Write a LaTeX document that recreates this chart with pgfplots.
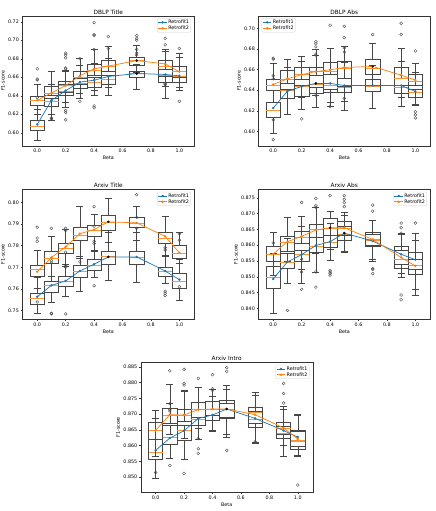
\documentclass[border=0pt]{standalone}
\usepackage{fontspec}
\setmainfont{DejaVu Sans}
\usepackage{pgfplots}
\pgfplotsset{compat=1.18}
\usepgfplotslibrary{statistics}
\definecolor{c0}{HTML}{1F77B4}
\definecolor{c1}{HTML}{FF7F0E}
\pgfplotsset{
  panel/.style={
    scale only axis, width=344pt, height=260pt,
    xmin=-0.105, xmax=1.105,
    xtick={0,0.2,0.4,0.6,0.8,1.0},
    xticklabel style={/pgf/number format/.cd,fixed,fixed zerofill,precision=1},
    scaled y ticks=false,
    /pgf/number format/assume math mode=true,
    tick align=outside, tick pos=left, major tick length=3.4pt,
    every tick/.style={black!80, line width=0.77pt},
    axis line style={black!80, line width=0.77pt},
    tick label style={font=\fontsize{9.6}{11}\selectfont},
    label style={font=\fontsize{9.6}{11}\selectfont},
    every axis title shift=0pt,
    title style={font=\fontsize{11.6}{13}\selectfont, yshift=-1pt},
    xlabel={Beta}, ylabel={F1-score},
    legend cell align=left,
    legend style={font=\fontsize{9.6}{11}\selectfont, draw=black!20, rounded corners=2pt, inner sep=1.5pt, row sep=-1pt, fill=white, fill opacity=0.8, text opacity=1},
  },
  bst/.style={black!72, line width=0.96pt, solid, forget plot, mark=none,
    boxplot/draw direction=y,
    boxplot/box extend=0.1, boxplot/whisker extend=0.05,
    boxplot/every median/.style={draw=c1!85, line width=0.96pt}},
  outl/.style={only marks, mark=o, mark size=2.9pt, black!72, mark options={line width=0.75pt}, forget plot},
  bestpt/.style={only marks, mark=*, mark size=2.2pt, black, forget plot},
  l1/.style={c0, line width=1.45pt, mark=*, mark size=1.7pt},
  l2/.style={c1, line width=1.45pt, mark=*, mark size=1.7pt},
}
\newcommand\bx[6]{\addplot[bst, boxplot prepared={draw direction=y,draw position=#1,lower whisker=#2,lower quartile=#3,median=#4,upper quartile=#5,upper whisker=#6}] coordinates {};}
\begin{document}
\begin{tikzpicture}
\useasboundingbox (0,0) rectangle (870pt,-1022pt);
% ---------------- DBLP Title
\begin{axis}[panel, at={(44.6pt,-31.4pt)}, anchor=north west, title={DBLP Title},
  ymin=0.586, ymax=0.7265, ytick={0.60,0.62,0.64,0.66,0.68,0.70,0.72},
  yticklabel style={/pgf/number format/.cd,fixed,fixed zerofill,precision=2},
  legend style={at={(0.98,0.98)}, anchor=north east}]
\bx{0}{0.592}{0.603}{0.6075}{0.613}{0.625}
\bx{0}{0.620}{0.630}{0.635}{0.639}{0.652}
\bx{0.1}{0.613}{0.629}{0.634}{0.641}{0.652}
\bx{0.1}{0.620}{0.637}{0.643}{0.650}{0.666}
\bx{0.2}{0.628}{0.640}{0.645}{0.652}{0.667}
\bx{0.2}{0.633}{0.644}{0.651}{0.6555}{0.668}
\bx{0.3}{0.637}{0.648}{0.654}{0.659}{0.673}
\bx{0.3}{0.643}{0.652}{0.660}{0.667}{0.680}
\bx{0.4}{0.641}{0.649}{0.655}{0.662}{0.675}
\bx{0.4}{0.646}{0.660}{0.668}{0.674}{0.690}
\bx{0.5}{0.641}{0.652}{0.658}{0.666}{0.680}
\bx{0.5}{0.649}{0.662}{0.672}{0.678}{0.693}
\bx{0.7}{0.647}{0.660}{0.664}{0.667}{0.674}
\bx{0.7}{0.665}{0.673}{0.678}{0.682}{0.695}
\bx{0.9}{0.637}{0.655}{0.662}{0.669}{0.688}
\bx{0.9}{0.650}{0.661}{0.672}{0.678}{0.690}
\bx{1.0}{0.646}{0.655}{0.661}{0.667}{0.682}
\bx{1.0}{0.649}{0.660}{0.666}{0.672}{0.686}
\addplot[outl] coordinates {(0,0.669)(0,0.658)(0,0.657)(0,0.638)(0.1,0.616)(0.1,0.615)(0.2,0.686)(0.2,0.684)(0.2,0.681)(0.2,0.670)(0.2,0.669)(0.2,0.624)(0.2,0.622)(0.2,0.614)(0.3,0.680)(0.3,0.634)(0.4,0.719)(0.4,0.706)(0.4,0.705)(0.4,0.690)(0.4,0.629)(0.4,0.627)(0.5,0.704)(0.5,0.691)(0.7,0.705)(0.7,0.702)(0.7,0.700)(0.7,0.690)(0.7,0.686)(0.7,0.684)(0.9,0.702)(0.9,0.695)(0.9,0.653)(0.9,0.652)(1.0,0.691)(1.0,0.634)};
\addplot[l1] coordinates {(0,0.609)(0.1,0.635)(0.2,0.6455)(0.3,0.6547)(0.4,0.6568)(0.5,0.6608)(0.7,0.664)(0.9,0.663)(1.0,0.6615)};
\addlegendentry{Retrofit1}
\addplot[l2] coordinates {(0,0.635)(0.1,0.643)(0.2,0.651)(0.3,0.6615)(0.4,0.669)(0.5,0.672)(0.7,0.678)(0.9,0.6744)(1.0,0.666)};
\addlegendentry{Retrofit2}
\addplot[bestpt] coordinates {(0.7,0.664)(0.7,0.678)};
\end{axis}
% ---------------- DBLP Abs
\begin{axis}[panel, at={(516.6pt,-31.4pt)}, anchor=north west, title={DBLP Abs},
  ymin=0.586, ymax=0.7123, ytick={0.60,0.62,0.64,0.66,0.68,0.70},
  yticklabel style={/pgf/number format/.cd,fixed,fixed zerofill,precision=2},
  legend style={at={(0.02,0.98)}, anchor=north west}]
\bx{0}{0.598}{0.614}{0.620}{0.628}{0.640}
\bx{0}{0.628}{0.640}{0.645}{0.651}{0.666}
\bx{0.1}{0.617}{0.632}{0.640}{0.647}{0.662}
\bx{0.1}{0.632}{0.641}{0.651}{0.659}{0.670}
\bx{0.2}{0.621}{0.634}{0.644}{0.651}{0.668}
\bx{0.2}{0.633}{0.645}{0.655}{0.662}{0.673}
\bx{0.3}{0.623}{0.637}{0.646}{0.654}{0.674}
\bx{0.3}{0.635}{0.643}{0.658}{0.662}{0.680}
\bx{0.4}{0.624}{0.638}{0.645}{0.655}{0.667}
\bx{0.4}{0.628}{0.641}{0.658}{0.667}{0.681}
\bx{0.5}{0.620}{0.638}{0.643}{0.652}{0.667}
\bx{0.5}{0.629}{0.644}{0.661}{0.668}{0.683}
\bx{0.7}{0.622}{0.639}{0.644}{0.651}{0.664}
\bx{0.7}{0.645}{0.655}{0.661}{0.670}{0.686}
\bx{0.9}{0.624}{0.637}{0.643}{0.652}{0.668}
\bx{0.9}{0.633}{0.645}{0.652}{0.662}{0.681}
\bx{1.0}{0.625}{0.633}{0.638}{0.645}{0.657}
\bx{1.0}{0.626}{0.641}{0.649}{0.655}{0.666}
\addplot[outl] coordinates {(0,0.671)(0,0.670)(0,0.654)(0,0.651)(0,0.611)(0,0.592)(0.2,0.612)(0.3,0.687)(0.3,0.685)(0.3,0.682)(0.3,0.675)(0.3,0.674)(0.3,0.635)(0.4,0.703)(0.4,0.624)(0.5,0.702)(0.5,0.691)(0.5,0.681)(0.5,0.677)(0.5,0.632)(0.7,0.694)(0.9,0.705)(0.9,0.694)(1.0,0.678)(1.0,0.619)(1.0,0.616)(1.0,0.613)};
\addplot[l1] coordinates {(0,0.6226)(0.1,0.639)(0.2,0.6435)(0.3,0.6465)(0.4,0.6465)(0.5,0.6445)(0.7,0.6445)(0.9,0.6445)(1.0,0.6387)};
\addlegendentry{Retrofit1}
\addplot[l2] coordinates {(0,0.6455)(0.1,0.651)(0.2,0.655)(0.3,0.658)(0.4,0.6597)(0.5,0.662)(0.7,0.663)(0.9,0.6545)(1.0,0.6497)};
\addlegendentry{Retrofit2}
\addplot[bestpt] coordinates {(0.3,0.6465)(0.7,0.663)};
\end{axis}
% ---------------- Arxiv Title
\begin{axis}[panel, at={(44.6pt,-378.6pt)}, anchor=north west, title={Arxiv Title},
  ymin=0.746, ymax=0.806, ytick={0.75,0.76,0.77,0.78,0.79,0.80},
  yticklabel style={/pgf/number format/.cd,fixed,fixed zerofill,precision=2},
  legend style={at={(0.98,0.98)}, anchor=north east}]
\bx{0}{0.7487}{0.7531}{0.7555}{0.7582}{0.7655}
\bx{0}{0.7605}{0.7657}{0.769}{0.7709}{0.778}
\bx{0.1}{0.754}{0.7584}{0.7615}{0.7634}{0.772}
\bx{0.1}{0.766}{0.7719}{0.774}{0.7775}{0.7845}
\bx{0.2}{0.7565}{0.7611}{0.7635}{0.7657}{0.7715}
\bx{0.2}{0.7705}{0.7763}{0.779}{0.781}{0.7875}
\bx{0.3}{0.759}{0.7654}{0.768}{0.7708}{0.775}
\bx{0.3}{0.774}{0.7824}{0.785}{0.7886}{0.798}
\bx{0.4}{0.7655}{0.7688}{0.771}{0.7736}{0.7775}
\bx{0.4}{0.778}{0.7844}{0.787}{0.7894}{0.7945}
\bx{0.5}{0.764}{0.7714}{0.775}{0.7776}{0.786}
\bx{0.5}{0.7815}{0.7869}{0.791}{0.7942}{0.802}
\bx{0.7}{0.763}{0.7716}{0.7745}{0.7775}{0.786}
\bx{0.7}{0.7825}{0.7885}{0.7905}{0.793}{0.798}
\bx{0.9}{0.7625}{0.766}{0.768}{0.770}{0.775}
\bx{0.9}{0.7755}{0.781}{0.7835}{0.7863}{0.7935}
\bx{1.0}{0.7548}{0.7603}{0.7635}{0.7672}{0.7735}
\bx{1.0}{0.772}{0.7744}{0.7765}{0.780}{0.786}
\addplot[outl] coordinates {(0,0.7885)(0,0.7835)(0,0.782)(0,0.754)(0.1,0.788)(0.1,0.773)(0.1,0.772)(0.1,0.7488)(0.1,0.7485)(0.2,0.788)(0.2,0.787)(0.2,0.777)(0.2,0.771)(0.2,0.770)(0.2,0.7485)(0.3,0.7725)(0.4,0.798)(0.4,0.789)(0.4,0.782)(0.4,0.781)(0.4,0.7615)(0.7,0.8035)(0.7,0.793)(0.7,0.788)(0.9,0.779)(0.9,0.778)(0.9,0.759)(0.9,0.758)(0.9,0.757)(1.0,0.7855)(1.0,0.7825)(1.0,0.761)};
\addplot[l1] coordinates {(0,0.7564)(0.1,0.7617)(0.2,0.7637)(0.3,0.7683)(0.4,0.7714)(0.5,0.7748)(0.7,0.7748)(0.9,0.7683)(1.0,0.7643)};
\addlegendentry{Retrofit1}
\addplot[l2] coordinates {(0,0.768)(0.1,0.7745)(0.2,0.7795)(0.3,0.7855)(0.4,0.7874)(0.5,0.791)(0.7,0.7905)(0.9,0.7843)(1.0,0.7767)};
\addlegendentry{Retrofit2}
\addplot[bestpt] coordinates {(0.5,0.7748)(0.5,0.791)};
\end{axis}
% ---------------- Arxiv Abs
\begin{axis}[panel, at={(516.6pt,-378.6pt)}, anchor=north west, title={Arxiv Abs},
  ymin=0.8365, ymax=0.8777, ytick={0.840,0.845,0.850,0.855,0.860,0.865,0.870,0.875},
  yticklabel style={/pgf/number format/.cd,fixed,fixed zerofill,precision=3},
  legend style={at={(0.98,0.98)}, anchor=north east}]
\bx{0}{0.8384}{0.8463}{0.8497}{0.8532}{0.8575}
\bx{0}{0.8505}{0.8549}{0.857}{0.8595}{0.864}
\bx{0.1}{0.848}{0.8527}{0.8545}{0.858}{0.8622}
\bx{0.1}{0.8548}{0.8574}{0.861}{0.8628}{0.8688}
\bx{0.2}{0.8478}{0.8549}{0.857}{0.8605}{0.866}
\bx{0.2}{0.8525}{0.8585}{0.8625}{0.8645}{0.8693}
\bx{0.3}{0.8514}{0.8576}{0.8595}{0.8625}{0.8665}
\bx{0.3}{0.8575}{0.8625}{0.865}{0.8667}{0.872}
\bx{0.4}{0.8553}{0.8594}{0.861}{0.8632}{0.8668}
\bx{0.4}{0.8588}{0.863}{0.8655}{0.8684}{0.8708}
\bx{0.5}{0.8578}{0.8615}{0.8635}{0.866}{0.8695}
\bx{0.5}{0.858}{0.863}{0.8655}{0.8675}{0.8705}
\bx{0.7}{0.8555}{0.8597}{0.8615}{0.8635}{0.8678}
\bx{0.7}{0.8548}{0.86}{0.862}{0.864}{0.868}
\bx{0.9}{0.8497}{0.8538}{0.8555}{0.8597}{0.8638}
\bx{0.9}{0.8512}{0.8527}{0.8555}{0.8585}{0.8635}
\bx{1.0}{0.846}{0.8525}{0.8555}{0.8579}{0.8638}
\bx{1.0}{0.844}{0.8507}{0.8535}{0.8555}{0.8614}
\addplot[outl] coordinates {(0,0.8607)(0.1,0.8393)(0.2,0.8735)(0.2,0.8555)(0.2,0.8515)(0.2,0.846)(0.3,0.8748)(0.3,0.8725)(0.3,0.872)(0.3,0.8515)(0.3,0.8467)(0.4,0.8757)(0.4,0.852)(0.4,0.8515)(0.4,0.851)(0.4,0.8505)(0.5,0.8757)(0.5,0.8745)(0.5,0.8735)(0.5,0.8722)(0.7,0.8727)(0.7,0.8708)(0.7,0.8526)(0.7,0.8523)(0.7,0.851)(0.9,0.867)(0.9,0.8655)(0.9,0.8638)(0.9,0.8442)(0.9,0.8427)(1.0,0.867)};
\addplot[l1] coordinates {(0,0.8493)(0.1,0.8547)(0.2,0.857)(0.3,0.8599)(0.4,0.8611)(0.5,0.8638)(0.7,0.8613)(0.9,0.8571)(1.0,0.8554)};
\addlegendentry{Retrofit1}
\addplot[l2] coordinates {(0,0.8572)(0.1,0.8611)(0.2,0.8628)(0.3,0.8648)(0.4,0.8655)(0.5,0.8655)(0.7,0.8618)(0.9,0.8561)(1.0,0.8534)};
\addlegendentry{Retrofit2}
\addplot[bestpt] coordinates {(0.4,0.8655)(0.5,0.8638)};
\end{axis}
% ---------------- Arxiv Intro
\begin{axis}[panel, at={(281.4pt,-724.6pt)}, anchor=north west, title={Arxiv Intro},
  ymin=0.8452, ymax=0.8864, ytick={0.850,0.855,0.860,0.865,0.870,0.875,0.880,0.885},
  yticklabel style={/pgf/number format/.cd,fixed,fixed zerofill,precision=3},
  legend style={at={(0.98,0.98)}, anchor=north east}]
\bx{0}{0.8495}{0.8556}{0.8578}{0.8619}{0.8688}
\bx{0}{0.8565}{0.8619}{0.865}{0.8673}{0.8713}
\bx{0.1}{0.856}{0.8603}{0.8625}{0.867}{0.8735}
\bx{0.1}{0.8635}{0.8665}{0.8695}{0.872}{0.8795}
\bx{0.2}{0.8557}{0.8617}{0.865}{0.8678}{0.8773}
\bx{0.2}{0.8622}{0.8665}{0.8695}{0.8716}{0.8775}
\bx{0.3}{0.862}{0.8666}{0.8685}{0.8715}{0.8785}
\bx{0.3}{0.8655}{0.869}{0.8715}{0.8736}{0.8785}
\bx{0.4}{0.8645}{0.868}{0.8695}{0.8715}{0.8758}
\bx{0.4}{0.865}{0.8695}{0.8715}{0.874}{0.8778}
\bx{0.5}{0.8625}{0.8688}{0.8715}{0.8735}{0.878}
\bx{0.5}{0.8635}{0.869}{0.8715}{0.8745}{0.879}
\bx{0.7}{0.8607}{0.8659}{0.8685}{0.871}{0.876}
\bx{0.7}{0.861}{0.867}{0.8705}{0.8721}{0.877}
\bx{0.9}{0.8567}{0.8624}{0.864}{0.866}{0.8715}
\bx{0.9}{0.860}{0.8635}{0.8655}{0.8673}{0.8725}
\bx{1.0}{0.857}{0.859}{0.8615}{0.865}{0.8698}
\bx{1.0}{0.8565}{0.8598}{0.8618}{0.8645}{0.8695}
\addplot[outl] coordinates {(0,0.8515)(0.1,0.8837)(0.1,0.8733)(0.1,0.8715)(0.1,0.871)(0.1,0.8537)(0.2,0.8842)(0.2,0.8797)(0.2,0.8792)(0.2,0.8512)(0.3,0.8813)(0.3,0.8622)(0.3,0.859)(0.3,0.8575)(0.4,0.8825)(0.4,0.878)(0.4,0.8775)(0.5,0.8847)(0.5,0.8835)(0.5,0.8585)(0.7,0.8612)(0.9,0.8797)(0.9,0.8765)(0.9,0.8735)(1.0,0.8475)};
\addplot[l1] coordinates {(0,0.8585)(0.1,0.8624)(0.2,0.8647)(0.3,0.8686)(0.4,0.8697)(0.5,0.8716)(0.7,0.8686)(0.9,0.8648)(1.0,0.8627)};
\addlegendentry{Retrofit1}
\addplot[l2] coordinates {(0,0.8648)(0.1,0.8698)(0.2,0.8697)(0.3,0.8714)(0.4,0.8716)(0.5,0.8716)(0.7,0.8698)(0.9,0.8656)(1.0,0.8621)};
\addlegendentry{Retrofit2}
\addplot[bestpt] coordinates {(0.5,0.8716)};
\end{axis}
\end{tikzpicture}
\end{document}
